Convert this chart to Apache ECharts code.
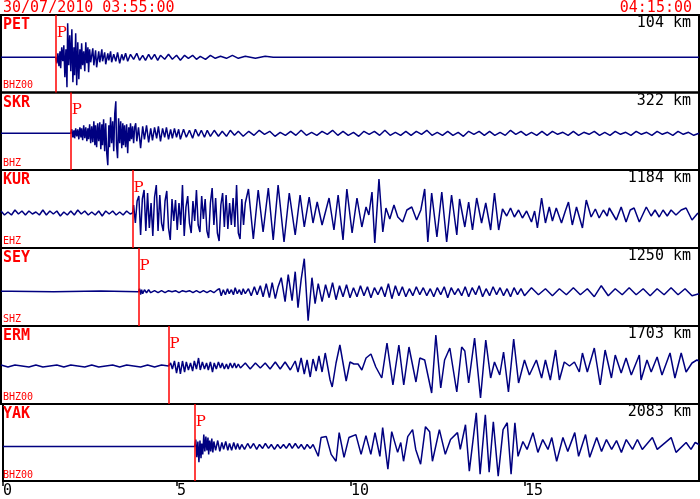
<!DOCTYPE html>
<html><head><meta charset="utf-8">
<script src="https://cdn.jsdelivr.net/npm/echarts@6/dist/echarts.min.js"></script>
<style>html,body{margin:0;padding:0;background:#fff}#c{width:700px;height:499px}</style>
</head><body><div id="c"></div>
<script>
// ---- data (time in minutes after 03:55:00, amplitude in relative counts) ----
const stations = ['PET','SKR','KUR','SEY','ERM','YAK'];
const distances = ['104 km','322 km','1184 km','1250 km','1703 km','2083 km'];
const channels = ['BHZ00','BHZ','EHZ','SHZ','BHZ00','BHZ00'];
const pTimes = [1.57, 2.0, 3.77, 3.94, 4.8, 5.51];
const startLabel = '30/07/2010 03:55:00';
const endLabel = '04:15:00';
const xTickValues = [0, 5, 10, 15];

const PET = [[0,0],[1.57,0],[1.6,-6],[1.63,4],[1.66,-9],[1.69,6],[1.71,-11],[1.74,10],[1.77,-4],[1.8,12],[1.83,-20],[1.86,8],[1.89,-30],[1.91,34],[1.94,-8],[1.97,22],[2.0,-14],[2.03,28],[2.06,-25],[2.09,10],[2.11,-18],[2.14,24],[2.17,-28],[2.2,15],[2.23,-22],[2.26,8],[2.29,-12],[2.31,14],[2.34,-8],[2.37,6],[2.4,-14],[2.43,15],[2.46,-6],[2.49,10],[2.51,-15],[2.54,8],[2.57,-5],[2.63,9],[2.66,-8],[2.71,7],[2.74,-10],[2.8,6],[2.83,-5],[2.89,8],[2.91,-4],[2.97,5],[3.0,-7],[3.06,4],[3.09,-3],[3.14,6],[3.17,-5],[3.23,3],[3.29,-4],[3.34,5],[3.4,-6],[3.46,3],[3.51,-3],[3.57,4],[3.63,-4],[3.71,3],[3.8,-2],[3.89,4],[3.97,-3],[4.06,2],[4.14,-3],[4.23,3],[4.31,-2],[4.4,3],[4.49,-3],[4.57,2],[4.69,-2],[4.8,3],[4.91,-2],[5.03,2],[5.14,-3],[5.26,2],[5.37,-1],[5.49,2],[5.6,-2],[5.71,1],[5.86,-2],[6.0,2],[6.14,-1],[6.29,1],[6.46,-1],[6.63,2],[6.8,-1],[7.0,1],[7.29,-1],[7.57,1],[7.8,0],[9.0,0],[9.03,1.2],[9.06,0],[10.2,0],[10.23,1.2],[10.26,0],[11.4,0],[11.43,1.2],[11.46,0],[12.3,0],[12.33,1.2],[12.36,0],[13.57,0],[13.6,1.5],[13.63,0],[13.9,0],[13.93,1.5],[13.96,0],[14.2,0],[14.23,1.5],[14.26,0],[14.5,0],[14.53,1.2],[14.56,0],[14.8,0],[14.83,1.5],[14.86,0],[15.2,0],[15.23,1.2],[15.26,0],[15.8,0],[15.83,1.2],[15.86,0],[17.8,0],[17.83,1.2],[17.86,0],[20,0]];

const SKR = [[0,0],[2.0,0],[2.03,4],[2.06,-4],[2.09,3],[2.11,-5],[2.14,5],[2.17,-3],[2.2,4],[2.23,-6],[2.26,6],[2.29,-4],[2.31,5],[2.34,-7],[2.37,8],[2.4,-5],[2.43,6],[2.46,-8],[2.49,5],[2.51,-6],[2.54,9],[2.57,-10],[2.6,7],[2.63,-9],[2.66,12],[2.69,-12],[2.71,8],[2.74,-14],[2.77,10],[2.8,-8],[2.83,11],[2.86,-16],[2.89,9],[2.91,-12],[2.94,14],[2.97,-18],[3.0,10],[3.03,-20],[3.06,-32],[3.09,8],[3.11,-14],[3.14,16],[3.17,-10],[3.2,12],[3.23,-18],[3.26,20],[3.29,32],[3.31,-12],[3.34,-25],[3.37,15],[3.4,-10],[3.43,12],[3.46,-15],[3.49,10],[3.51,-12],[3.54,8],[3.57,-14],[3.6,9],[3.63,-20],[3.66,6],[3.69,-8],[3.71,10],[3.74,-6],[3.77,7],[3.8,-10],[3.83,6],[3.86,10],[3.89,-8],[3.94,6],[4.0,-15],[4.06,7],[4.11,-6],[4.17,8],[4.23,-9],[4.29,5],[4.34,-7],[4.4,6],[4.46,-5],[4.51,7],[4.57,-8],[4.63,5],[4.69,-4],[4.74,6],[4.8,-6],[4.86,4],[4.91,-5],[4.97,5],[5.03,-4],[5.09,4],[5.14,-6],[5.23,4],[5.31,-4],[5.4,3],[5.49,-5],[5.57,4],[5.66,-3],[5.74,3],[5.83,-4],[5.91,3],[6.0,-3],[6.11,3],[6.23,-3],[6.34,2],[6.46,-3],[6.57,3],[6.69,-2],[6.8,2],[6.94,-3],[7.1,2],[7.25,-2],[7.4,3],[7.55,-1],[7.7,2],[7.85,-3],[8.0,1],[8.15,-2],[8.3,2],[8.45,-2],[8.6,3],[8.75,-2],[8.9,1],[9.05,-2],[9.2,2],[9.35,-1],[9.5,3],[9.65,-2],[9.8,2],[9.95,-2],[10.1,1],[10.25,-3],[10.4,2],[10.55,-1],[10.7,2],[10.85,-2],[11.0,3],[11.15,-2],[11.3,1],[11.45,-2],[11.6,2],[11.75,-2],[11.9,2],[12.05,-1],[12.2,3],[12.35,-2],[12.5,1],[12.65,-2],[12.8,2],[12.95,-2],[13.1,1],[13.25,-3],[13.4,2],[13.55,-1],[13.7,2],[13.85,-2],[14.0,2],[14.15,-2],[14.3,1],[14.45,-2],[14.6,3],[14.75,-1],[14.9,2],[15.05,-2],[15.2,1],[15.35,-2],[15.5,2],[15.65,-2],[15.8,2],[15.95,-1],[16.1,1],[16.25,-2],[16.4,2],[16.55,-2],[16.7,1],[16.85,-1],[17.0,2],[17.15,-2],[17.3,1],[17.45,-2],[17.6,2],[17.75,-1],[17.9,1],[18.05,-2],[18.2,2],[18.35,-1],[18.5,1],[18.65,-2],[18.8,2],[18.95,-1],[19.1,1],[19.25,-2],[19.4,2],[19.55,-1],[19.7,1],[19.85,-2],[20,0]];

const KUR = [[0,2],[0.1,-2],[0.2,1],[0.3,-2],[0.4,3],[0.5,-1],[0.6,2],[0.7,-2],[0.8,2],[0.9,-1],[1.0,1],[1.1,-2],[1.2,3],[1.3,-2],[1.4,2],[1.5,-1],[1.6,2],[1.7,-3],[1.8,1],[1.9,-2],[2.0,2],[2.1,-2],[2.2,3],[2.3,-1],[2.4,2],[2.5,-2],[2.6,1],[2.7,-2],[2.8,2],[2.9,-3],[3.0,2],[3.1,-1],[3.2,2],[3.3,-2],[3.4,1],[3.5,-2],[3.6,2],[3.7,-1],[3.77,0],[3.8,8],[3.85,-10],[3.9,12],[3.95,17],[4.0,-22],[4.05,14],[4.1,23],[4.15,-18],[4.2,20],[4.25,-15],[4.3,10],[4.35,-23],[4.4,16],[4.45,28],[4.5,-18],[4.55,18],[4.6,-10],[4.65,-18],[4.7,12],[4.75,22],[4.8,-15],[4.85,-27],[4.9,14],[4.95,-8],[5.0,13],[5.05,-17],[5.1,10],[5.15,-12],[5.2,28],[5.25,-23],[5.3,6],[5.35,17],[5.4,-10],[5.45,-20],[5.5,12],[5.55,-8],[5.6,23],[5.65,-12],[5.7,-19],[5.75,17],[5.8,-6],[5.85,14],[5.9,-18],[5.95,-25],[6.0,10],[6.05,25],[6.1,-12],[6.15,15],[6.2,-20],[6.25,-28],[6.3,8],[6.35,20],[6.4,-14],[6.45,18],[6.5,-16],[6.55,10],[6.6,-12],[6.65,15],[6.7,-14],[6.75,28],[6.8,-20],[6.85,-26],[6.9,14],[6.95,-12],[7.0,10],[7.09,24],[7.23,-26],[7.37,23],[7.51,-19],[7.66,25],[7.8,-27],[7.94,28],[8.11,-29],[8.26,20],[8.43,-22],[8.57,18],[8.69,-14],[8.83,16],[8.94,-10],[9.06,11],[9.2,-12],[9.4,15],[9.54,-17],[9.66,18],[9.8,-27],[9.91,24],[10.06,-20],[10.2,15],[10.34,-14],[10.46,6],[10.54,-2],[10.63,21],[10.71,-30],[10.83,34],[10.94,-19],[11.03,5],[11.14,-6],[11.26,8],[11.37,-4],[11.51,-9],[11.63,3],[11.77,6],[11.91,-7],[12.03,3],[12.14,24],[12.23,-29],[12.34,20],[12.49,-24],[12.63,21],[12.77,-29],[12.91,18],[13.06,-22],[13.14,14],[13.29,-14],[13.4,11],[13.51,-17],[13.63,15],[13.77,-10],[13.89,10],[14.03,-17],[14.14,20],[14.26,-17],[14.37,4],[14.49,-3],[14.6,5],[14.71,-4],[14.83,3],[14.94,-5],[15.06,2],[15.2,-9],[15.29,2],[15.37,-15],[15.49,15],[15.6,-10],[15.71,6],[15.8,-8],[15.91,5],[16.06,-10],[16.17,2],[16.26,11],[16.37,-12],[16.49,6],[16.66,-15],[16.77,13],[16.91,-4],[17.03,4],[17.14,-5],[17.26,3],[17.37,-3],[17.43,5],[17.63,-7],[17.77,6],[17.91,-9],[18.03,3],[18.14,5],[18.29,-9],[18.49,6],[18.63,-3],[18.74,3],[18.86,-4],[18.97,3],[19.09,-3],[19.2,3],[19.34,-2],[19.49,3],[19.63,5],[19.8,-7],[19.97,0]];

const SEY = [[0,0.5],[0.29,0.5],[0.3,0],[1.51,0],[1.54,0.8],[2.86,0.8],[2.89,0],[3.94,0],[3.97,3],[4.0,-3],[4.03,2],[4.06,-2],[4.11,2],[4.17,-1],[4.23,2],[4.29,-1],[4.4,1],[4.5,-1],[4.6,1],[4.7,-1],[4.8,1],[4.9,0],[5.0,1],[5.1,-1],[5.2,1],[5.3,0],[5.4,1],[5.5,-1],[5.6,1],[5.7,-1],[5.8,1],[5.9,-1],[6.0,1],[6.1,-1],[6.2,2],[6.26,3],[6.31,-4],[6.37,2],[6.43,-3],[6.49,3],[6.54,-2],[6.6,2],[6.66,-3],[6.71,4],[6.77,-2],[6.83,2],[6.89,-3],[6.94,3],[7.0,-2],[7.09,3],[7.17,-4],[7.26,5],[7.34,-3],[7.43,6],[7.51,-5],[7.6,8],[7.69,-6],[7.77,9],[7.86,-7],[7.94,5],[8.03,14],[8.14,-10],[8.23,17],[8.34,-9],[8.43,20],[8.51,-16],[8.6,12],[8.69,33],[8.8,-29],[8.91,14],[9.0,-12],[9.09,8],[9.2,-10],[9.3,7],[9.4,-6],[9.5,9],[9.6,-8],[9.7,6],[9.8,-5],[9.9,7],[10.0,-6],[10.1,4],[10.2,-5],[10.3,6],[10.4,-4],[10.5,5],[10.6,-6],[10.7,4],[10.8,-3],[10.9,5],[11.0,-5],[11.1,8],[11.2,-7],[11.3,6],[11.4,-4],[11.5,5],[11.6,-5],[11.7,3],[11.8,-4],[11.9,5],[12.0,-3],[12.1,4],[12.2,-4],[12.3,3],[12.4,-5],[12.5,4],[12.6,-3],[12.7,5],[12.8,-6],[12.9,4],[13.0,-3],[13.1,3],[13.2,-4],[13.3,5],[13.4,-5],[13.5,4],[13.6,-3],[13.7,6],[13.8,-5],[13.9,3],[14.0,-4],[14.1,5],[14.2,-3],[14.3,4],[14.4,-4],[14.5,3],[14.6,-5],[14.7,4],[14.8,-3],[14.9,3],[15.0,-4],[15.2,4],[15.4,-3],[15.6,3],[15.8,-4],[16.0,3],[16.2,-3],[16.4,4],[16.6,-3],[16.8,3],[17.0,-5],[17.2,6],[17.4,-4],[17.6,3],[17.8,-3],[18.0,4],[18.2,-3],[18.4,3],[18.6,-4],[18.8,3],[19.0,-3],[19.2,4],[19.4,-3],[19.6,3],[19.8,-4],[20,-2]];

const ERM = [[0,1],[0.2,-1],[0.4,1],[0.6,0],[0.8,-1],[1.0,1],[1.2,-1],[1.4,0],[1.6,1],[1.8,-1],[2.0,1],[2.2,0],[2.4,-1],[2.6,1],[2.8,-1],[3.0,0],[3.2,1],[3.4,-1],[3.6,1],[3.8,0],[4.0,-1],[4.2,1],[4.4,-1],[4.6,1],[4.8,0],[4.86,3],[4.91,-3],[4.97,5],[5.03,-7],[5.09,4],[5.14,-8],[5.2,5],[5.26,-6],[5.31,4],[5.37,-4],[5.43,3],[5.49,-5],[5.54,5],[5.6,-3],[5.66,8],[5.71,-4],[5.77,4],[5.83,-3],[5.89,3],[5.94,-4],[6.0,4],[6.06,-6],[6.11,3],[6.17,-3],[6.23,4],[6.29,-2],[6.34,3],[6.4,-3],[6.46,2],[6.51,-3],[6.57,3],[6.63,-2],[6.69,3],[6.74,-2],[6.8,2],[6.86,-2],[7.0,3],[7.14,-3],[7.29,3],[7.43,-2],[7.57,3],[7.71,-3],[7.86,4],[8.0,-3],[8.14,4],[8.29,-4],[8.43,5],[8.51,-6],[8.6,8],[8.69,-8],[8.77,6],[8.86,-11],[8.94,7],[9.03,-5],[9.11,10],[9.2,-6],[9.29,13],[9.43,-14],[9.49,-21],[9.6,3],[9.71,21],[9.89,-15],[10.0,4],[10.11,2],[10.23,2],[10.34,-4],[10.46,8],[10.6,12],[10.74,-1],[10.91,-12],[11.06,23],[11.23,-19],[11.4,21],[11.54,-19],[11.69,19],[11.89,-16],[12.0,8],[12.14,6],[12.34,-27],[12.46,31],[12.6,-22],[12.71,6],[12.86,18],[13.06,-26],[13.2,19],[13.29,15],[13.4,-17],[13.57,28],[13.74,-32],[13.89,26],[14.03,-12],[14.14,4],[14.29,-9],[14.4,14],[14.54,-26],[14.69,27],[14.83,-17],[15.0,6],[15.14,-9],[15.34,6],[15.49,-12],[15.6,6],[15.74,-14],[15.89,16],[16.0,-14],[16.14,4],[16.29,0],[16.43,4],[16.57,-6],[16.66,13],[16.8,-6],[17.0,18],[17.17,-19],[17.31,16],[17.49,-12],[17.6,11],[17.77,-7],[17.91,8],[18.06,-9],[18.29,11],[18.34,-14],[18.51,6],[18.63,-6],[18.8,9],[18.94,-9],[19.17,13],[19.31,-12],[19.49,13],[19.63,-6],[19.8,3],[19.94,6],[20,5]];

const YAK = [[0,0],[5.51,0],[5.54,7],[5.57,-11],[5.6,5],[5.63,-16],[5.66,6],[5.69,-12],[5.71,3],[5.74,-8],[5.77,12],[5.8,-5],[5.83,10],[5.86,-4],[5.89,9],[5.91,-8],[5.94,6],[5.97,-5],[6.0,8],[6.03,-6],[6.06,5],[6.11,-4],[6.17,6],[6.23,-5],[6.29,4],[6.34,-3],[6.4,5],[6.46,-4],[6.51,3],[6.57,-4],[6.63,4],[6.69,-3],[6.74,3],[6.8,-3],[6.86,2],[6.94,-3],[7.03,3],[7.11,-2],[7.2,3],[7.29,-3],[7.37,2],[7.46,-2],[7.54,3],[7.63,-2],[7.71,2],[7.8,-3],[7.89,2],[7.97,-2],[8.06,2],[8.14,-2],[8.23,3],[8.31,-2],[8.4,3],[8.49,-2],[8.57,2],[8.66,-3],[8.74,2],[8.83,-2],[8.91,2],[9.06,-10],[9.14,9],[9.29,10],[9.43,-8],[9.57,-15],[9.66,14],[9.8,-11],[9.94,9],[10.14,12],[10.29,-8],[10.43,11],[10.57,-8],[10.69,14],[10.83,-10],[10.91,19],[11.06,-23],[11.17,15],[11.34,-6],[11.43,4],[11.51,-15],[11.63,10],[11.77,17],[11.86,-3],[12.0,-18],[12.14,20],[12.26,15],[12.34,-15],[12.54,17],[12.71,-8],[12.86,7],[13.06,14],[13.14,-3],[13.29,22],[13.4,-25],[13.6,34],[13.71,-28],[13.86,32],[13.97,-26],[14.09,25],[14.23,-30],[14.37,17],[14.49,24],[14.6,-28],[14.71,24],[14.8,-10],[14.94,5],[15.06,-3],[15.23,14],[15.37,-6],[15.51,7],[15.66,-3],[15.77,9],[15.91,-15],[16.09,9],[16.23,-5],[16.43,14],[16.54,-10],[16.74,12],[16.86,-11],[17.06,9],[17.2,-5],[17.34,7],[17.49,-3],[17.63,6],[17.77,-6],[17.91,7],[18.09,-3],[18.23,7],[18.37,-3],[18.66,9],[18.8,-3],[19.2,9],[19.34,-6],[19.63,4],[19.77,-3],[19.89,4],[20,2]];

const traces = [PET, SKR, KUR, SEY, ERM, YAK];

// ---- layout ----
const tops = [15, 92.5, 170, 248, 326, 404];
const heights = [77.5, 77.5, 78, 78, 78, 78];
const baseOff = [42.3, 40.8, 43, 43.7, 40, 43];
const MONO = '"DejaVu Sans Mono", monospace';
const RED = '#ff0000';
const TRACE = '#000080';

const chart = echarts.init(document.getElementById('c'), null, {renderer: 'canvas'});
const grid = [], xAxis = [], yAxis = [], series = [], graphic = [];

graphic.push({type: 'text', left: 3, top: 1, style: {text: startLabel, fill: RED, fontFamily: MONO, fontSize: 15}});
graphic.push({type: 'text', right: 8, top: 1, style: {text: endLabel, fill: RED, fontFamily: MONO, fontSize: 15}});

stations.forEach((name, i) => {
  const last = i === stations.length - 1;
  grid.push({left: 1, width: 698, top: tops[i], height: heights[i], show: true, borderColor: '#000', borderWidth: 2, backgroundColor: 'transparent'});
  xAxis.push({
    type: 'value', gridIndex: i, min: 0, max: 20, interval: 5, position: 'bottom',
    axisLine: {show: false, onZero: false}, splitLine: {show: false},
    axisTick: {show: last, inside: false, length: 5, lineStyle: {color: '#000', width: 1.5}},
    minorTick: {show: false},
    axisLabel: {show: last, showMaxLabel: false, align: 'left', margin: 3, color: '#000', fontFamily: MONO, fontSize: 15,
      formatter: v => xTickValues.indexOf(v) >= 0 ? String(v) : ''}
  });
  yAxis.push({type: 'value', gridIndex: i, show: false, min: baseOff[i] - heights[i], max: baseOff[i], splitLine: {show: false}});
  series.push({
    type: 'line', xAxisIndex: i, yAxisIndex: i, data: traces[i], showSymbol: false, symbol: 'none',
    silent: true, animation: false, clip: true,
    lineStyle: {color: TRACE, width: 1.5},
    markLine: {silent: true, symbol: 'none', animation: false, label: {show: false},
      lineStyle: {color: RED, width: 1.5, type: 'solid'}, data: [{xAxis: pTimes[i]}]},
    markPoint: {silent: true, animation: false, symbol: 'rect', symbolSize: 0,
      label: {show: true, position: 'right', distance: 1, formatter: 'P', color: RED, fontFamily: '"DejaVu Serif", serif', fontSize: 15},
      data: [{coord: [pTimes[i], baseOff[i] - 18]}]}
  });
  graphic.push({type: 'text', left: 3, top: tops[i] + 3, style: {text: name, fill: RED, fontFamily: MONO, fontSize: 15, fontWeight: 'bold'}});
  graphic.push({type: 'text', right: 9, top: tops[i] + 1, style: {text: distances[i], fill: '#000', fontFamily: MONO, fontSize: 15}});
  graphic.push({type: 'text', left: 3, top: tops[i] + heights[i] - 12, style: {text: channels[i], fill: RED, fontFamily: MONO, fontSize: 10}});
});

chart.setOption({animation: false, backgroundColor: '#fff', grid, xAxis, yAxis, series, graphic});
</script></body></html>
